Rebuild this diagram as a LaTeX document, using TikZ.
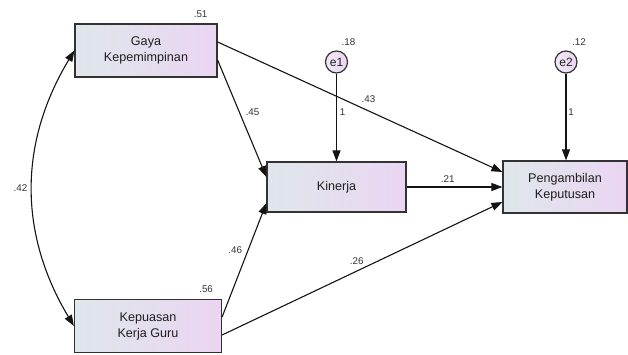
\documentclass[tikz,border=0pt]{standalone}
\usepackage{fontspec}
\setmainfont{Liberation Sans}
\usetikzlibrary{arrows.meta}
\definecolor{boxleft}{HTML}{DFE7EB}
\definecolor{boxright}{HTML}{EBD5F2}
\definecolor{errleft}{HTML}{F1E8F6}
\definecolor{edgegray}{HTML}{333333}

\begin{document}
\begin{tikzpicture}[x=1pt, y=-1pt,
    >={Triangle[length=11pt,width=8pt]},
    var/.style={draw=edgegray, line width=1.2pt, rectangle, left color=boxleft, right color=boxright, align=center, text=black!88, font=\fontsize{12.6}{16}\selectfont, inner sep=0pt},
    err/.style={draw=edgegray, line width=1.2pt, circle, minimum size=22pt, inner sep=0pt, left color=errleft, right color=boxright, text=black!88, font=\fontsize{12}{13}\selectfont},
    coef/.style={font=\fontsize{9.8}{11}\selectfont, text=black!80, inner sep=0pt},
    path/.style={line width=1.1pt, black!92}]

    \useasboundingbox (0,0) rectangle (628,355);

    \node[var, minimum width=142pt, minimum height=53pt] (gaya) at (146, 50.5) {Gaya\\Kepemimpinan};
    \node[var, minimum width=147pt, minimum height=53pt] (kepuasan) at (148, 326) {Kepuasan\\Kerja Guru};
    \node[var, minimum width=139pt, minimum height=50pt] (kinerja) at (336.5, 187) {Kinerja};
    \node[var, minimum width=124pt, minimum height=52pt] (keputusan) at (565, 187) {Pengambilan\\Keputusan};
    \node[err] (e1) at (336.5, 62) {e1};
    \node[err] (e2) at (566, 62) {e2};

    \node[coef] (rgaya) at ([xshift=-17pt, yshift=9pt]gaya.north east) {.51};
    \node[coef] (rkepuasan) at ([xshift=-16pt, yshift=9.5pt]kepuasan.north east) {.56};
    \node[coef] (rkinerja) at ([xshift=12pt, yshift=20pt]e1.center) {.18};
    \node[coef] (rkeputusan) at ([xshift=13pt, yshift=20pt]e2.center) {.12};

    \draw [path, ->] ([yshift=8.5pt]gaya.east) to node[coef, pos=0.53, yshift=12pt] {.43} ([yshift=15pt]keputusan.west);
    \draw [path, ->] ([yshift=-9.5pt]gaya.east) to node[coef, pos=0.45, xshift=13pt] {.45} ([yshift=10pt]kinerja.west);
    \draw [path, ->] ([yshift=9pt]kepuasan.east) to node[coef, pos=0.59, xshift=-13pt] {.46} ([yshift=-16pt]kinerja.west);
    \draw [path, ->] ([yshift=-9pt]kepuasan.east) to node[coef, pos=0.48, yshift=10.5pt] {.26} ([yshift=-15pt]keputusan.west);
    \draw [path, ->] (kinerja.east) to node[coef, pos=0.43, yshift=8pt] {.21} (keputusan.west);
    \draw [path, ->] (e1) to node[coef, pos=0.44, xshift=6pt] {1} (e1 |- kinerja.north);
    \draw [path, ->] (e2) to node[coef, pos=0.44, xshift=5pt] {1} (e2 |- keputusan.north);
    \draw [path, <->] (gaya.west) to[bend right=31] node[coef, pos=0.5, xshift=-12pt] {.42} (kepuasan.west);

\end{tikzpicture}
\end{document}
